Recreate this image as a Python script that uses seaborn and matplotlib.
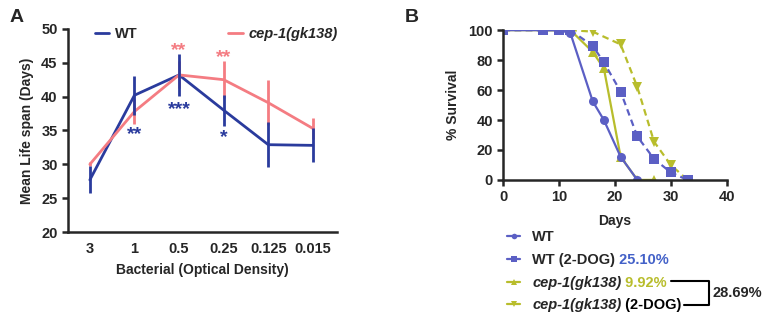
import pandas as pd
import seaborn as sns
import matplotlib.pyplot as plt
from matplotlib.lines import Line2D

# datos panel A: vida media segun densidad optica
od_labels = ['3', '1', '0.5', '0.25', '0.125', '0.015']
wt_mean = [27.7, 40.2, 43.2, 38.0, 32.9, 32.8]
wt_err = [2.0, 2.9, 3.1, 2.3, 3.3, 2.5]
cep_mean = [30.0, 37.8, 43.2, 42.5, 39.1, 35.3]
cep_err = [0.3, 1.9, 2.0, 2.7, 3.3, 1.5]

# asteriscos de significancia (indice, valor, texto)
cep_stars = [(2, 46.8, '**'), (3, 45.7, '**')]
wt_stars = [(1, 34.4, '**'), (2, 38.1, '***'), (3, 33.9, '*')]

# datos panel B: curvas de supervivencia
wt_days = [0, 7, 10, 12, 16, 18, 21, 24]
wt_surv = [100, 100, 100, 98, 52.5, 40, 15.5, 0]
wtdog_days = [0, 7, 10, 12, 16, 18, 21, 24, 27, 30, 33]
wtdog_surv = [100, 100, 100, 100, 89.5, 78.5, 59, 29, 14, 5, 0]
cep_days = [0, 7, 10, 12, 16, 18, 21, 24, 27]
cep_surv = [100, 100, 100, 100, 85.5, 74.5, 15.5, 0, 0]
cepdog_days = [0, 7, 10, 12, 16, 21, 24, 27, 30, 33]
cepdog_surv = [100, 100, 100, 100, 99, 90.5, 62, 25.5, 10, 0]

sns.set_style('ticks')
plt.rcParams['font.family'] = ['Liberation Sans', 'DejaVu Sans']
plt.rcParams['font.weight'] = 'bold'
plt.rcParams['axes.labelweight'] = 'bold'
plt.rcParams['axes.linewidth'] = 1.8
plt.rcParams['xtick.major.width'] = 1.8
plt.rcParams['ytick.major.width'] = 1.8
plt.rcParams['xtick.major.size'] = 4
plt.rcParams['ytick.major.size'] = 4
plt.rcParams['xtick.labelsize'] = 10.5
plt.rcParams['ytick.labelsize'] = 10.5

azul = '#2a3b9d'
rosa = '#f47c82'
morado = '#5b5fc4'
amarillo = '#b8bd2c'

fig = plt.figure(figsize=(7.64, 3.14), dpi=100)

# ---------------- panel A ----------------
axA = fig.add_axes([0.089, 0.261, 0.352, 0.647])
dfA = pd.DataFrame({'pos': list(range(6)) * 2,
                    'vida': cep_mean + wt_mean,
                    'cepa': ['cep-1(gk138)'] * 6 + ['WT'] * 6})
sns.lineplot(data=dfA, x='pos', y='vida', hue='cepa',
             palette={'WT': azul, 'cep-1(gk138)': rosa},
             hue_order=['WT', 'cep-1(gk138)'], linewidth=2, ax=axA)
axA.errorbar(range(6), cep_mean, yerr=cep_err, fmt='none', ecolor=rosa, elinewidth=2, capsize=0)
axA.errorbar(range(6), wt_mean, yerr=wt_err, fmt='none', ecolor=azul, elinewidth=2, capsize=0)
for x, y, s in cep_stars:
    axA.text(x, y, s, color=rosa, fontsize=14, ha='center', va='center')
for x, y, s in wt_stars:
    axA.text(x, y, s, color=azul, fontsize=14, ha='center', va='center')
axA.set_xlim(-0.49, 5.54)
axA.set_ylim(20, 50)
axA.set_yticks(range(20, 51, 5))
axA.set_xticks(range(6))
axA.set_xticklabels(od_labels)
axA.tick_params(axis='x', length=0, pad=7)
axA.set_xlabel('Bacterial (Optical Density)', fontsize=10, labelpad=5)
axA.set_ylabel('Mean Life span (Days)', fontsize=10, labelpad=5)
sns.despine(ax=axA)
legA = axA.legend(loc='upper left', bbox_to_anchor=(0.10, 1.01), ncol=2, frameon=False,
                  fontsize=10.5, handlelength=1.0, columnspacing=6.2, handletextpad=0.4,
                  borderpad=0, borderaxespad=0)
legA.get_texts()[1].set_style('italic')
fig.text(0.012, 0.93, 'A', fontsize=14, fontweight='bold')

# ---------------- panel B ----------------
axB = fig.add_axes([0.659, 0.427, 0.292, 0.477])
dfB = pd.DataFrame({
    'dia': wt_days + wtdog_days + cep_days + cepdog_days,
    'sup': wt_surv + wtdog_surv + cep_surv + cepdog_surv,
    'grupo': ['WT'] * len(wt_days) + ['WT (2-DOG)'] * len(wtdog_days)
             + ['cep'] * len(cep_days) + ['cepdog'] * len(cepdog_days)})
orden = ['cepdog', 'cep', 'WT (2-DOG)', 'WT']
sns.lineplot(data=dfB, x='dia', y='sup', hue='grupo', style='grupo', hue_order=orden,
             style_order=orden,
             palette={'WT': morado, 'WT (2-DOG)': morado, 'cep': amarillo, 'cepdog': amarillo},
             markers={'WT': 'o', 'WT (2-DOG)': 's', 'cep': '^', 'cepdog': 'v'},
             dashes={'WT': '', 'WT (2-DOG)': (3, 2), 'cep': '', 'cepdog': (3, 2)},
             markersize=6.5, markeredgewidth=0, linewidth=1.6, legend=False, ax=axB)
axB.set_xlim(0, 40)
axB.set_ylim(0, 100)
axB.set_xticks(range(0, 41, 10))
axB.set_yticks(range(0, 101, 20))
axB.set_xlabel('Days', fontsize=10, labelpad=7)
axB.set_ylabel('% Survival', fontsize=10, labelpad=6)
for sp in axB.spines.values():
    sp.set_clip_on(False)
sns.despine(ax=axB)
fig.text(0.53, 0.93, 'B', fontsize=14, fontweight='bold')

handles = [Line2D([], [], color=morado, marker='o', markersize=4, markeredgewidth=0, lw=1.6),
           Line2D([], [], color=morado, marker='s', markersize=4, markeredgewidth=0, lw=1.6),
           Line2D([], [], color=amarillo, marker='^', markersize=4, markeredgewidth=0, lw=1.6),
           Line2D([], [], color=amarillo, marker='v', markersize=4, markeredgewidth=0, lw=1.6)]
labels = ['WT', 'WT (2-DOG)', 'cep-1(gk138)', 'cep-1(gk138)']
legB = fig.legend(handles, labels, loc='upper left', bbox_to_anchor=(0.664, 0.267),
                  frameon=False, fontsize=10.5, handlelength=0.9, handletextpad=0.8,
                  labelspacing=0.6, borderpad=0, borderaxespad=0)
t = legB.get_texts()
t[2].set_style('italic')
t[3].set_style('italic')
fig.canvas.draw()
axB.annotate(' 25.10%', xy=(1, 0), xycoords=t[1], color='#4361c8', fontsize=10.5,
             fontweight='bold', va='bottom', ha='left', annotation_clip=False)
p1 = axB.annotate(' 9.92%', xy=(1, 0), xycoords=t[2], color=amarillo, fontsize=10.5,
                  fontweight='bold', va='bottom', ha='left', annotation_clip=False)
p2 = axB.annotate(' (2-DOG)', xy=(1, 0), xycoords=t[3], color='black', fontsize=10.5,
                  fontweight='bold', va='bottom', ha='left', annotation_clip=False)

# corchete entre las dos cepas cep-1
fig.canvas.draw()
inv = fig.transFigure.inverted()
b1 = p1.get_window_extent()
b2 = p2.get_window_extent()
(x1, y1) = inv.transform((b1.x1 + 4, (b1.y0 + b1.y1) / 2 + 2))
(x2, y2) = inv.transform((b2.x1 + 2, (b2.y0 + b2.y1) / 2))
xb = 709 / 764
fig.add_artist(Line2D([x1, xb, xb, x2], [y1, y1, y2, y2], color='black', lw=1.5,
                      transform=fig.transFigure))
fig.text(xb + 0.005, (y1 + y2) / 2, '28.69%', fontsize=10.5, fontweight='bold', va='center')

plt.savefig('out.png', dpi=100)
